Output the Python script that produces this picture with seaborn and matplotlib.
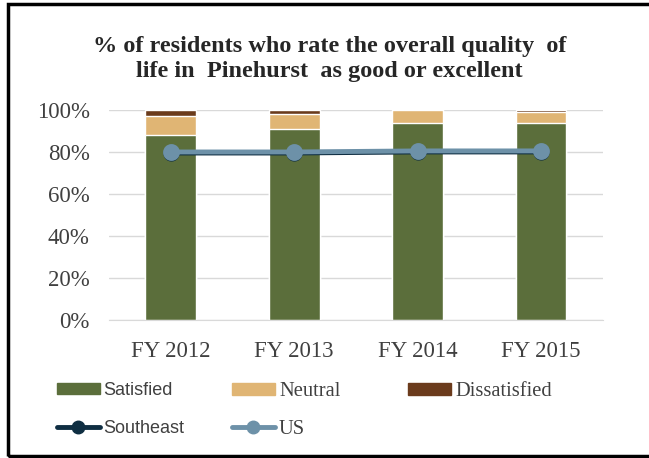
'''quality of life chart'''
import matplotlib
matplotlib.use('Agg')
import matplotlib.pyplot as plt
import seaborn as sns
from matplotlib.patches import Patch, Rectangle
from matplotlib.lines import Line2D
from matplotlib.ticker import PercentFormatter

years = ['FY 2012', 'FY 2013', 'FY 2014', 'FY 2015']
satisfied = [88, 91, 94, 94]
neutral = [9, 7, 6, 5]
dissatisfied = [3, 2, 0, 1]
southeast = [79.5, 79.5, 80, 80]
us = [80, 80, 80.5, 80.5]

GREEN = '#5b6e3b'
TAN = '#e0b574'
BROWN = '#6b3b1c'
NAVY = '#0f2e42'
STEEL = '#6d91a8'


def main():
    '''draw it'''
    sns.set_style('white')
    plt.rcParams['font.family'] = ['Liberation Serif', 'DejaVu Serif']

    fig = plt.figure(figsize=(6.49, 4.58), dpi=100)
    ax = fig.add_axes([0.168, 0.301, 0.761, 0.459])

    top2 = [s + n for s, n in zip(satisfied, neutral)]
    top3 = [t + d for t, d in zip(top2, dissatisfied)]
    for vals, col in [(top3, BROWN), (top2, TAN), (satisfied, GREEN)]:
        sns.barplot(x=years, y=vals, color=col, width=0.41, saturation=1,
                    ax=ax, zorder=2)

    sns.pointplot(x=years, y=southeast, color=NAVY, markers='o',
                  markersize=9, linewidth=3.5, errorbar=None, ax=ax,
                  zorder=3)
    sns.pointplot(x=years, y=us, color=STEEL, markers='o',
                  markersize=9.5, linewidth=3.5, errorbar=None, ax=ax,
                  zorder=4)

    ax.set_ylim(0, 100)
    ax.set_xlim(-0.5, 3.5)
    ax.set_yticks(range(0, 101, 20))
    ax.yaxis.set_major_formatter(PercentFormatter(decimals=0))
    ax.grid(axis='y', color='#d9d9d9', lw=1, zorder=0)
    ax.set_axisbelow(True)
    for side in ['top', 'right', 'left']:
        ax.spines[side].set_visible(False)
    ax.spines['bottom'].set_color('#d9d9d9')
    ax.tick_params(axis='both', length=0, labelsize=16.5,
                   labelcolor='#404040')
    ax.tick_params(axis='y', pad=14)
    ax.tick_params(axis='x', pad=15)
    ax.set_xlabel('')
    ax.set_ylabel('')

    fig.text(0.508, 0.871,
             '% of residents who rate the overall quality  of\n'
             'life in  Pinehurst  as good or excellent',
             ha='center', va='center', fontsize=17.5, fontweight='bold',
             linespacing=1.25)

    cols = [
        ([Patch(color=GREEN), Line2D([], [], color=NAVY, lw=3.5,
                                     marker='o', ms=9)],
         ['Satisfied', 'Southeast'], 57, 'Liberation Sans', 13, 1.14),
        ([Patch(color=TAN), Line2D([], [], color=STEEL, lw=3.5,
                                   marker='o', ms=9)],
         ['Neutral', 'US'], 232, 'Liberation Serif', 14.8, 0.91),
        ([Patch(color=BROWN)], ['Dissatisfied'], 408,
         'Liberation Serif', 14.8, 0.91),
    ]
    for handles, labels, xpx, fam, size, gap in cols:
        leg = fig.legend(handles, labels, loc='upper left',
                         bbox_to_anchor=(xpx / 649, 1 - 382 / 458),
                         frameon=False, prop={'family': fam, 'size': size},
                         handlelength=43 / (size * 1.39), handleheight=0.55,
                         handletextpad=0.2, labelspacing=gap,
                         borderpad=0, borderaxespad=0)
        for t in leg.get_texts():
            t.set_color('#404040')

    fig.add_artist(Rectangle((8 / 649, 2 / 458), 1.0, 1 - 6 / 458,
                             transform=fig.transFigure, fill=False,
                             lw=2.5, ec='black'))

    fig.savefig('out.png', dpi=100)


if __name__ == '__main__':
    main()
